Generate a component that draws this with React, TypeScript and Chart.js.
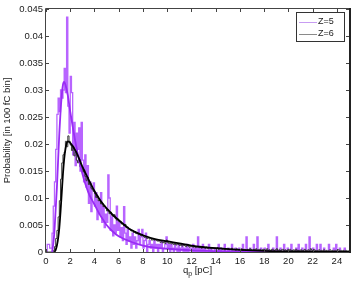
import React, { useEffect, useRef } from 'react';
import { Chart, registerables } from 'chart.js';

Chart.register(...registerables);

const BIN = 0.1;
const X_MIN = 0;
const X_MAX = 25;
const X_TICKS = [0, 2, 4, 6, 8, 10, 12, 14, 16, 18, 20, 22, 24];
const Y_MIN = 0;
const Y_MAX = 0.045;
const Y_TICKS = [0, 0.005, 0.01, 0.015, 0.02, 0.025, 0.03, 0.035, 0.04, 0.045];

const SERIES_NAMES = ['Z=5', 'Z=6'];
const X_TITLE_MAIN = 'q';
const X_TITLE_SUB = 'p';
const X_TITLE_REST = ' [pC]';
const Y_TITLE = 'Probability [in 100 fC bin]';

// Z=5 histogram, 0.1 pC bins from 0 to 25
const Z5_HIST = [
  0, 0, 0.0014, 0.0014, 0.0007, 0.0007, 0.0035, 0.0085, 0.013, 0.019,
  0.0255, 0.0285, 0.026, 0.030, 0.0285, 0.030, 0.034, 0.0295, 0.0435, 0.027,
  0.022, 0.0325, 0.0295, 0.018, 0.024, 0.016, 0.022, 0.019, 0.023, 0.015,
  0.024, 0.017, 0.013, 0.018, 0.012, 0.016, 0.009, 0.013, 0.0075, 0.012,
  0.0128, 0.0085, 0.011, 0.006, 0.0095, 0.007, 0.011, 0.0055, 0.0085, 0.0045,
  0.007, 0.0055, 0.0143, 0.010, 0.004, 0.0065, 0.003, 0.005, 0.0035, 0.0085,
  0.004, 0.0055, 0.0028, 0.0045, 0.0021, 0.0084, 0.0035, 0.0014, 0.0042, 0.0021,
  0.0028, 0.0007, 0.0035, 0.0014, 0.0028, 0.0007, 0.0021, 0.0042, 0.0014, 0.0028,
  0.0042, 0.0007, 0.0021, 0.0035, 0, 0.0014, 0.0021, 0.0007, 0.0014, 0,
  0.0021, 0.0007, 0.0014, 0, 0.0014, 0.0007, 0.0021, 0, 0.0007, 0.0014,
  0.0028, 0.0007, 0.0014, 0, 0.0014, 0.0007, 0, 0.0014, 0.0007, 0,
  0.0014, 0, 0.0007, 0.0014, 0, 0.0007, 0, 0.0014, 0, 0.0007,
  0.0007, 0, 0.0014, 0, 0.0007, 0, 0.0028, 0, 0.0007, 0,
  0.0014, 0, 0.0007, 0, 0, 0.0014, 0, 0.0007, 0, 0,
  0.0007, 0, 0, 0.0014, 0, 0.0007, 0, 0, 0.0014, 0,
  0, 0.0007, 0, 0, 0.0014, 0, 0, 0.0007, 0, 0,
  0.0007, 0, 0, 0.0014, 0, 0, 0.0028, 0, 0, 0.0007,
  0, 0, 0.0014, 0, 0, 0.0028, 0, 0, 0.0007, 0,
  0, 0.0007, 0, 0, 0.0014, 0, 0, 0, 0.0007, 0,
  0, 0.0028, 0, 0, 0.0007, 0, 0, 0.0014, 0, 0,
  0.0007, 0, 0, 0.0014, 0, 0, 0, 0.0007, 0, 0.0014,
  0, 0, 0.0007, 0, 0, 0.0014, 0, 0, 0.0028, 0,
  0, 0.0007, 0, 0, 0.0014, 0, 0, 0.0014, 0, 0,
  0.0007, 0, 0, 0, 0.0014, 0, 0, 0, 0.0007, 0,
  0.0014, 0, 0, 0.0007, 0, 0, 0, 0.0007, 0, 0,
];

// Z=6 histogram, 0.1 pC bins from 0 to 25
const Z6_HIST = [
  0, 0, 0, 0, 0, 0, 0, 0.0003, 0.001, 0.0025,
  0.004, 0.0065, 0.0095, 0.0135, 0.0165, 0.018, 0.0185, 0.0205, 0.0195, 0.0215,
  0.0205, 0.0198, 0.0188, 0.0195, 0.0178, 0.0185, 0.017, 0.0165, 0.0172, 0.0158,
  0.0155, 0.0148, 0.0152, 0.014, 0.0132, 0.0138, 0.0125, 0.0128, 0.0118, 0.0115,
  0.0112, 0.0108, 0.0101, 0.0104, 0.0095, 0.0096, 0.0089, 0.009, 0.0084, 0.0085,
  0.0081, 0.0076, 0.0078, 0.0071, 0.0074, 0.0068, 0.0066, 0.0069, 0.0062, 0.0059,
  0.0061, 0.0056, 0.0057, 0.0052, 0.0053, 0.0049, 0.0051, 0.0045, 0.0046, 0.0043,
  0.0042, 0.0039, 0.004, 0.0036, 0.0038, 0.0034, 0.0035, 0.0032, 0.0033, 0.003,
  0.0031, 0.0029, 0.0027, 0.0028, 0.0025, 0.0027, 0.0024, 0.0025, 0.0022, 0.0023,
  0.0022, 0.0023, 0.0021, 0.002, 0.0021, 0.0018, 0.0019, 0.0017, 0.0019, 0.0016,
  0.0022, 0.0018, 0.0016, 0.0017, 0.0015, 0.0016, 0.0014, 0.0016, 0.0013, 0.0015,
  0.0014, 0.0012, 0.0014, 0.0011, 0.0013, 0.0012, 0.001, 0.0012, 0.0011, 0.0009,
  0.0011, 0.001, 0.0009, 0.0011, 0.0008, 0.0009, 0.001, 0.0008, 0.0009, 0.0007,
  0.0009, 0.0008, 0.0007, 0.0009, 0.0006, 0.0008, 0.0007, 0.0006, 0.0008, 0.0006,
  0.0007, 0.0006, 0.0008, 0.0005, 0.0006, 0.0007, 0.0005, 0.0006, 0.0004, 0.0006,
  0.0005, 0.0006, 0.0004, 0.0005, 0.0007, 0.0004, 0.0005, 0.0003, 0.0006, 0.0004,
  0.0005, 0.0004, 0.0006, 0.0003, 0.0005, 0.0004, 0.0003, 0.0005, 0.0004, 0.0006,
  0.0004, 0.0003, 0.0005, 0.0004, 0.0006, 0.0003, 0.0004, 0.0005, 0.0003, 0.0004,
  0.0005, 0.0003, 0.0004, 0.0006, 0.0003, 0.0004, 0.0002, 0.0005, 0.0004, 0.0003,
  0.0004, 0.0006, 0.0003, 0.0004, 0.0002, 0.0004, 0.0005, 0.0003, 0.0004, 0.0002,
  0.0004, 0.0003, 0.0005, 0.0002, 0.0003, 0.0004, 0.0003, 0.0005, 0.0002, 0.0003,
  0.0003, 0.0004, 0.0002, 0.0003, 0.0005, 0.0002, 0.0003, 0.0004, 0.0002, 0.0006,
  0.0003, 0.0002, 0.0004, 0.0003, 0.0002, 0.0003, 0.0004, 0.0002, 0.0003, 0.0002,
  0.0004, 0.0002, 0.0003, 0.0002, 0.0003, 0.0004, 0.0002, 0.0003, 0.0002, 0.0003,
  0.0002, 0.0003, 0.0004, 0.0002, 0.0003, 0.0002, 0.0003, 0.0002, 0.0003, 0.0002,
];

// Fitted curves
const FIT5_X = [0.5, 0.6, 0.7, 0.8, 0.9, 1.0, 1.1, 1.2, 1.3, 1.4, 1.5, 1.6, 1.8, 2.0, 2.5, 3.0, 3.5, 4.0, 4.5, 5, 5.5, 6, 7, 8, 9, 10, 12, 14, 16, 20, 25];
const FIT5_Y = [0, 0.0015, 0.004, 0.008, 0.012, 0.017, 0.022, 0.026, 0.029, 0.031, 0.0315, 0.031, 0.029, 0.026, 0.0195, 0.0145, 0.011, 0.0088, 0.0067, 0.005, 0.0038, 0.0029, 0.0019, 0.0012, 0.0008, 0.0006, 0.0003, 0.00016, 0.00009, 0.00003, 0];
const FIT6_X = [0.7, 0.8, 0.9, 1.0, 1.1, 1.2, 1.3, 1.4, 1.5, 1.6, 1.7, 1.8, 2.0, 2.5, 3.0, 3.5, 4.0, 4.5, 5, 5.5, 6, 7, 8, 9, 10, 11, 12, 14, 16, 18, 20, 25];
const FIT6_Y = [0, 0.0004, 0.0012, 0.0025, 0.0045, 0.0075, 0.011, 0.0145, 0.0172, 0.019, 0.0201, 0.0205, 0.0202, 0.0185, 0.0158, 0.0135, 0.0113, 0.0095, 0.0081, 0.0069, 0.0059, 0.0041, 0.0031, 0.0024, 0.002, 0.0016, 0.0012, 0.0007, 0.0004, 0.0002, 0.0001, 0];

const COLORS = {
  z5Hist: '#b864ff',
  z5Fit: '#9a2cf5',
  z6Hist: '#3a3a3a',
  z6Fit: '#000000',
  z5Legend: '#c79cf2',
  z6Legend: '#8a8a8a',
  axis: '#444444',
  text: '#1a1a1a',
};

const FONT = '"Liberation Sans", Arial, Helvetica, sans-serif';

function histPoints(vals: number[]) {
  const pts = vals.map((v, i) => ({ x: X_MIN + i * BIN, y: v }));
  pts.push({ x: X_MIN + vals.length * BIN, y: vals[vals.length - 1] });
  return pts;
}

function curvePoints(xs: number[], ys: number[]) {
  return xs.map((x, i) => ({ x, y: ys[i] }));
}

const framePlugin = {
  id: 'matlabFrame',
  afterDatasetsDraw(chart: any) {
    const { ctx, chartArea: a, scales } = chart;
    const xs = scales.x;
    const ys = scales.y;
    ctx.save();
    // inward ticks
    ctx.strokeStyle = COLORS.axis;
    ctx.lineWidth = 1;
    ctx.beginPath();
    xs.ticks.forEach((t: any) => {
      const px = Math.round(xs.getPixelForValue(t.value)) + 0.5;
      ctx.moveTo(px, a.bottom);
      ctx.lineTo(px, a.bottom - 3);
      ctx.moveTo(px, a.top);
      ctx.lineTo(px, a.top + 3);
    });
    ys.ticks.forEach((t: any) => {
      const py = Math.round(ys.getPixelForValue(t.value)) + 0.5;
      ctx.moveTo(a.left, py);
      ctx.lineTo(a.left + 3, py);
      ctx.moveTo(a.right, py);
      ctx.lineTo(a.right - 3, py);
    });
    ctx.stroke();
    // box
    ctx.strokeStyle = COLORS.axis;
    ctx.beginPath();
    ctx.moveTo(a.left - 0.5, a.top - 0.5);
    ctx.lineTo(a.right, a.top - 0.5);
    ctx.moveTo(a.left - 0.5, a.top - 0.5);
    ctx.lineTo(a.left - 0.5, a.bottom + 0.5);
    ctx.lineTo(a.right, a.bottom + 0.5);
    ctx.stroke();
    ctx.strokeStyle = '#222';
    ctx.lineWidth = 2;
    ctx.beginPath();
    ctx.moveTo(a.right + 1, a.top - 1);
    ctx.lineTo(a.right + 1, a.bottom + 1);
    ctx.stroke();

    // legend
    const lx = a.right - 53;
    const ly = a.top + 3;
    const lw = 48;
    const lh = 29;
    ctx.fillStyle = '#fff';
    ctx.fillRect(lx, ly, lw, lh);
    ctx.strokeStyle = '#333';
    ctx.lineWidth = 1;
    ctx.strokeRect(lx + 0.5, ly + 0.5, lw, lh);
    const legendColors = [COLORS.z5Legend, COLORS.z6Legend];
    ctx.font = `9px ${FONT}`;
    ctx.textBaseline = 'middle';
    ctx.textAlign = 'left';
    SERIES_NAMES.forEach((name, i) => {
      const yy = ly + 10 + i * 11.5;
      ctx.strokeStyle = legendColors[i];
      ctx.lineWidth = 1;
      ctx.beginPath();
      ctx.moveTo(lx + 3, Math.round(yy) + 0.5);
      ctx.lineTo(lx + 21, Math.round(yy) + 0.5);
      ctx.stroke();
      ctx.fillStyle = COLORS.text;
      ctx.fillText(name, lx + 22, yy);
    });

    // x title with subscript
    const cx = (a.left + a.right) / 2;
    const ty = a.bottom + 21;
    ctx.font = `9.5px ${FONT}`;
    const w1 = ctx.measureText(X_TITLE_MAIN).width;
    const w3 = ctx.measureText(X_TITLE_REST).width;
    ctx.font = `7px ${FONT}`;
    const w2 = ctx.measureText(X_TITLE_SUB).width;
    let sx = cx - (w1 + w2 + w3) / 2;
    ctx.fillStyle = COLORS.text;
    ctx.textBaseline = 'alphabetic';
    ctx.font = `9.5px ${FONT}`;
    ctx.fillText(X_TITLE_MAIN, sx, ty);
    sx += w1;
    ctx.font = `7px ${FONT}`;
    ctx.fillText(X_TITLE_SUB, sx, ty + 2.5);
    sx += w2;
    ctx.font = `9.5px ${FONT}`;
    ctx.fillText(X_TITLE_REST, sx, ty);
    ctx.restore();
  },
};

export default function App() {
  const canvasRef = useRef<HTMLCanvasElement | null>(null);

  useEffect(() => {
    const canvas = canvasRef.current;
    if (!canvas) return;
    const chart = new Chart(canvas, {
      type: 'line',
      data: {
        datasets: [
          {
            label: 'Z=6 fit',
            data: curvePoints(FIT6_X, FIT6_Y),
            borderColor: COLORS.z6Fit,
            borderWidth: 1.8,
            pointRadius: 0,
            cubicInterpolationMode: 'monotone',
            fill: false,
            order: 0,
          },
          {
            label: 'Z=5 fit',
            data: curvePoints(FIT5_X, FIT5_Y),
            borderColor: COLORS.z5Fit,
            borderWidth: 1.8,
            pointRadius: 0,
            cubicInterpolationMode: 'monotone',
            fill: false,
            order: 1,
          },
          {
            label: SERIES_NAMES[1],
            data: histPoints(Z6_HIST),
            borderColor: COLORS.z6Hist,
            borderWidth: 1,
            pointRadius: 0,
            stepped: 'after',
            fill: false,
            order: 2,
          },
          {
            label: SERIES_NAMES[0],
            data: histPoints(Z5_HIST),
            borderColor: COLORS.z5Hist,
            borderWidth: 1.3,
            pointRadius: 0,
            stepped: 'after',
            fill: false,
            order: 3,
          },
        ],
      },
      options: {
        responsive: false,
        animation: false,
        events: [],
        layout: { padding: { left: 0, top: 9, right: 5, bottom: 0 } },
        plugins: {
          legend: { display: false },
          tooltip: { enabled: false },
          title: { display: false },
        },
        scales: {
          x: {
            type: 'linear',
            min: X_MIN,
            max: X_MAX,
            grid: { display: false, drawTicks: false },
            border: { display: false },
            ticks: {
              padding: 4,
              color: COLORS.text,
              font: { family: FONT, size: 9.5 },
              maxRotation: 0,
              autoSkip: false,
            },
            afterBuildTicks: (scale: any) => {
              scale.ticks = X_TICKS.map((v) => ({ value: v }));
            },
            afterFit: (scale: any) => {
              scale.height = 32;
            },
          },
          y: {
            type: 'linear',
            min: Y_MIN,
            max: Y_MAX,
            grid: { display: false, drawTicks: false },
            border: { display: false },
            ticks: {
              padding: 3,
              color: COLORS.text,
              font: { family: FONT, size: 9.5 },
              autoSkip: false,
              callback: (v: any) => String(+Number(v).toFixed(3)),
            },
            afterBuildTicks: (scale: any) => {
              scale.ticks = Y_TICKS.map((v) => ({ value: v }));
            },
            title: {
              display: true,
              text: Y_TITLE,
              color: COLORS.text,
              font: { family: FONT, size: 9.5 },
              padding: { top: 2, bottom: 0 },
            },
            afterFit: (scale: any) => {
              scale.width = 46;
            },
          },
        },
      },
      plugins: [framePlugin],
    } as any);
    return () => chart.destroy();
  }, []);

  return (
    <div style={{ position: 'fixed', left: 0, top: 0, width: 354, height: 284, background: '#fff' }}>
      <canvas ref={canvasRef} width={354} height={284} style={{ display: 'block' }} />
    </div>
  );
}
